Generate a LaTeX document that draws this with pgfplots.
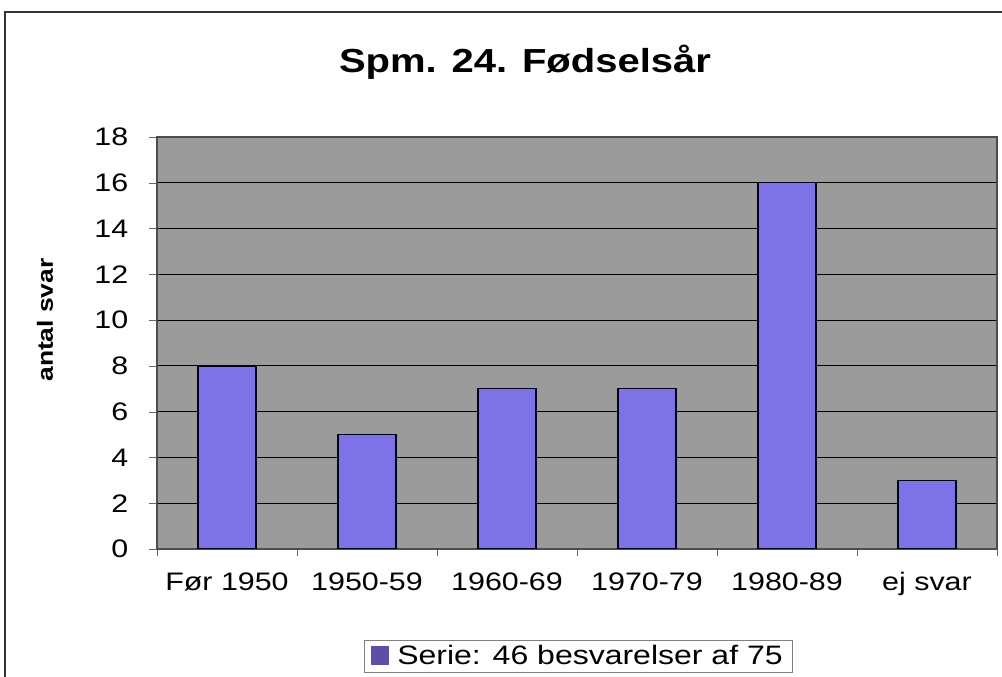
\documentclass[border=0pt]{standalone}
\usepackage{fontspec}
\setmainfont{Liberation Sans}[FakeStretch=1.2]
\usepackage{pgfplots}
\pgfplotsset{compat=1.18}
\definecolor{barfill}{HTML}{7D72E6}
\definecolor{legfill}{HTML}{5B4FA8}
\definecolor{plotbg}{HTML}{9B9B9B}
\begin{document}
\begin{tikzpicture}[x=0.75pt,y=0.75pt]
% picture frame in pixel units (y measured from bottom of 677px image)
\useasboundingbox (0,0) rectangle (1002,677);
\draw[line width=1.2pt,black!80] (5,-5) -- (5,665) -- (1002,665);
\coordinate (O) at (157,128);
\begin{axis}[
  at={(O)}, anchor=south west,
  scale only axis, width=630pt, height=309pt,
  xmin=-0.5, xmax=5.5, ymin=0, ymax=18,
  ytick={0,2,...,18},
  xtick={0,...,5},
  xticklabels={Før 1950,1950-59,1960-69,1970-79,1980-89,ej svar},
  minor xtick={-0.5,0.5,...,5.5},
  xtick pos=bottom, ytick pos=left,
  tick align=outside,
  major tick length=6pt, minor tick length=5pt,
  x tick style={draw=none},
  minor x tick style={draw=black!60},
  y tick style={black!60},
  ymajorgrids, grid style={black, line width=0.8pt},
  axis line style={black!70, line width=0.8pt},
  axis background/.style={fill=plotbg},
  tick label style={font=\fontsize{19}{22}\selectfont},
  xticklabel style={yshift=-8pt},
  yticklabel style={xshift=-12pt},
  /pgf/number format/assume math mode=true,
  legend style={at={(0.5012,-0.2597)}, anchor=center, draw=black!50,
    font=\fontsize{20}{23}\selectfont, inner xsep=5pt, inner ysep=2pt},
  legend image code/.code={\fill[legfill] (0pt,-6pt) rectangle (13pt,7pt);
    \path (17pt,0pt);},
]
\addplot[ybar, bar width=43.5pt, fill=barfill, draw=black!90!blue, line width=1pt]
  coordinates {(0,8) (1,5) (2,7) (3,7) (4,16) (5,3)};
\addlegendentry{Serie: 46 besvarelser af 75}
\end{axis}
\node[font=\bfseries\fontsize{25}{28}\selectfont] at (525,615) {Spm. 24. Fødselsår};
\node[font=\bfseries\fontsize{16.5}{18}\selectfont,rotate=90] at (45,357) {antal svar};
\end{tikzpicture}
\end{document}
